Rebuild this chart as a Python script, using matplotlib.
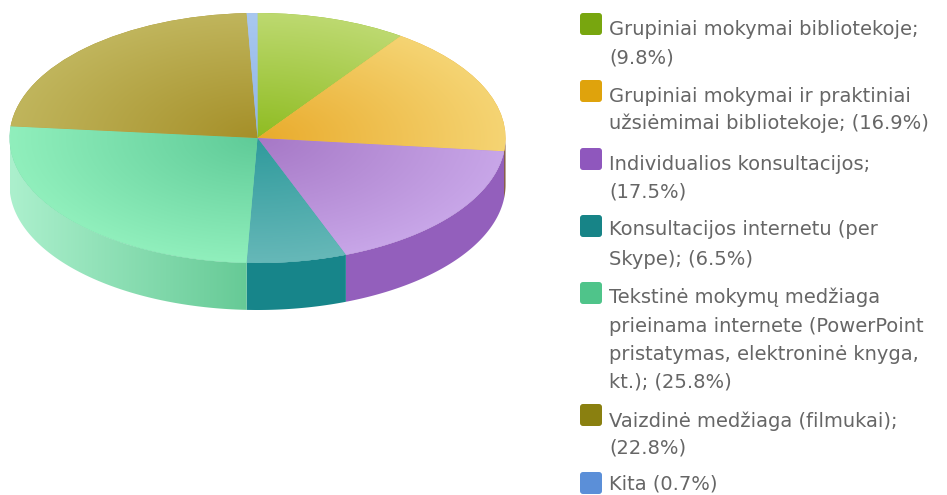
import numpy as np
import matplotlib
matplotlib.use('Agg')
import matplotlib.pyplot as plt
from matplotlib.patches import Polygon, FancyBboxPatch

values = [9.8, 16.9, 17.5, 6.5, 25.8, 22.8, 0.7]
legend_lines = [
    ['Grupiniai mokymai bibliotekoje;', '(9.8%)'],
    ['Grupiniai mokymai ir praktiniai', 'užsiėmimai bibliotekoje; (16.9%)'],
    ['Individualios konsultacijos;', '(17.5%)'],
    ['Konsultacijos internetu (per', 'Skype); (6.5%)'],
    ['Tekstinė mokymų medžiaga', 'prieinama internete (PowerPoint',
     'pristatymas, elektroninė knyga,', 'kt.); (25.8%)'],
    ['Vaizdinė medžiaga (filmukai);', '(22.8%)'],
    ['Kita (0.7%)'],
]

# Colours: legend swatch, top surface centre / rim, side wall
swatch_colors = ['#78a60f', '#dfa30c', '#8f57bd', '#178487', '#4fc48a', '#8a8010', '#5b8fd8']
inner_colors = ['#8fbc22', '#e9ab2c', '#a678c6', '#2f9a9c', '#5fcb98', '#a58f28', '#8fb4e6']
outer_colors = ['#bdd970', '#f5d473', '#c8a6e8', '#66b8b8', '#90efbc', '#c0b55c', '#a9c8f0']
side_colors = ['#7a8a20', '#7a4f30', '#935fbc', '#17858a', None, '#6f6a10', '#5b8fd8']
green_side_left = np.array([172, 240, 205]) / 255
green_side_right = np.array([102, 202, 150]) / 255

width_px, height_px = 947, 495
dpi = 100
fig = plt.figure(figsize=(width_px / dpi, height_px / dpi), dpi=dpi, facecolor='white')

# Pie geometry in pixels of the picture
cx, cy = 257.5, 138
rx, ry = 248, 125
depth = 47
depth_u = depth / ry

ax = fig.add_axes([(cx - rx) / width_px, 1 - (cy + ry + depth) / height_px,
                   2 * rx / width_px, (2 * ry + depth) / height_px])
wedges, _ = ax.pie(values, startangle=90, counterclock=False, radius=1,
                   colors=inner_colors, frame=False, wedgeprops={'linewidth': 0})
ax.set_aspect('auto')

# Radial shading on each top slice
grid = np.linspace(-1, 1, 400)
xx, yy = np.meshgrid(grid, grid)
rr = np.clip(np.hypot(xx, yy), 0, 1)[..., None]

for wedge, inner, outer in zip(wedges, inner_colors, outer_colors):
    c0 = np.array(matplotlib.colors.to_rgb(inner))
    c1 = np.array(matplotlib.colors.to_rgb(outer))
    img = c0 + (c1 - c0) * rr
    im = ax.imshow(img, extent=(-1, 1, -1, 1), origin='lower', aspect='auto', zorder=3)
    im.set_clip_path(wedge)
    wedge.set_zorder(2)

# Side walls, only the part of each slice on the front half
edges = np.cumsum([0] + values) / sum(values) * 2 * np.pi
for i in range(len(values)):
    t0 = max(edges[i], np.pi / 2)
    t1 = min(edges[i + 1], 3 * np.pi / 2)
    if t1 <= t0:
        continue
    t = np.linspace(t0, t1, 100)
    top = np.column_stack([np.sin(t), np.cos(t)])
    bottom = top[::-1] - [0, depth_u]
    poly = Polygon(np.vstack([top, bottom]), closed=True, linewidth=0, zorder=1)
    if side_colors[i] is None:
        poly.set_facecolor('none')
        ax.add_patch(poly)
        ramp = np.linspace(0, 1, 300)[None, :, None]
        img = green_side_left + (green_side_right - green_side_left) * ramp
        xs = top[:, 0]
        im = ax.imshow(img, extent=(xs.min(), xs.max(), -1 - depth_u, 0.2), aspect='auto', zorder=1)
        im.set_clip_path(poly)
    else:
        poly.set_facecolor(side_colors[i])
        ax.add_patch(poly)

ax.set_xlim(-1, 1)
ax.set_ylim(-1 - depth_u, 1)
ax.axis('off')

# Legend in pixel coordinates over the whole figure
lax = fig.add_axes([0, 0, 1, 1])
lax.set_xlim(0, width_px)
lax.set_ylim(height_px, 0)
lax.axis('off')
lax.patch.set_alpha(0)

swatch_x = 580
swatch_size = 22
text_x = 609
swatch_tops = [13, 80, 148, 215, 282, 404, 472]
baselines = [[35, 63], [102, 129], [170, 197], [235, 265], [303, 332, 360, 388], [427, 453], [489]]

for top, color, lines, ys in zip(swatch_tops, swatch_colors, legend_lines, baselines):
    lax.add_patch(FancyBboxPatch((swatch_x + 2, top + 2), swatch_size - 4, swatch_size - 4,
                                 boxstyle='round,pad=2,rounding_size=3', facecolor=color,
                                 edgecolor='none'))
    for line, y in zip(lines, ys):
        lax.text(text_x, y, line, fontsize=14, color='#666666', va='baseline', ha='left',
                 family='DejaVu Sans')

fig.savefig('out.png', dpi=dpi, facecolor='white')
